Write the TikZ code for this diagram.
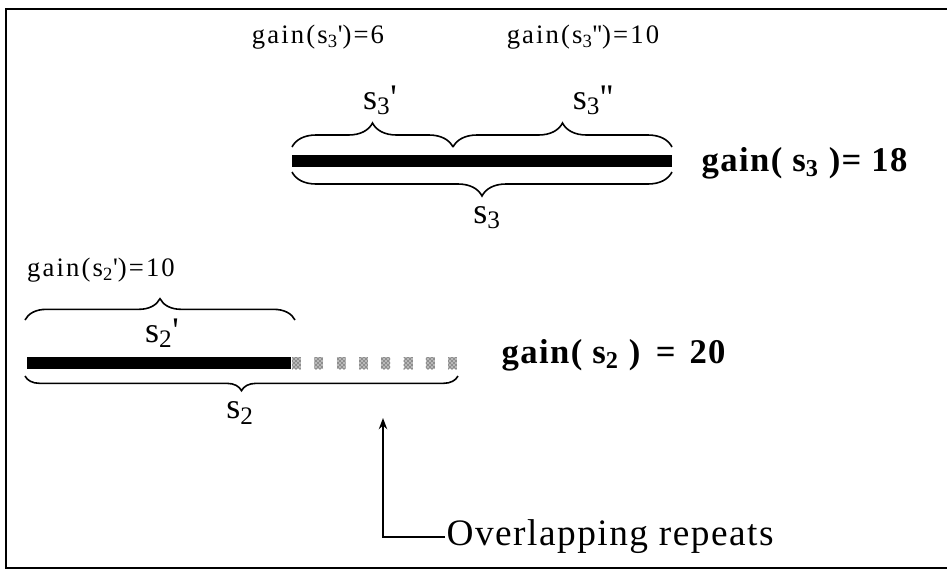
\documentclass[tikz,border=0pt]{standalone}
\usepackage{fontspec}
\setmainfont{Liberation Serif}
\usetikzlibrary{arrows.meta,decorations.pathreplacing,patterns}

\newcommand{\pr}{\textquotesingle}

\begin{document}
\begin{tikzpicture}[=>stealth,x=0.75pt,y=-0.75pt,
  bar/.style={line width=8.5pt},
  brc/.style={decorate,decoration={brace,amplitude=#1},line width=1.2pt},
  brcm/.style={decorate,decoration={brace,mirror,amplitude=#1},line width=1.2pt},
  gainsmall/.style={font=\fontsize{20}{22}\selectfont\addfontfeatures{LetterSpace=8}},
  seglbl/.style={font=\fontsize{27}{30}\selectfont},
  gainbig/.style={font=\fontsize{26}{30}\selectfont\bfseries\addfontfeatures{LetterSpace=4}},
  replbl/.style={font=\fontsize{28}{30}\selectfont\addfontfeatures{LetterSpace=4}}]
\useasboundingbox (0,0) rectangle (947,569);
\draw[line width=1.5pt](947,9)--(6,9)--(6,568)--(947,568);
\coordinate (a3) at (292,161);
\coordinate (b3) at (672,161);
\draw[bar](a3)--(b3);
\coordinate (a3u) at (292,147);
\coordinate (m3u) at (453,147);
\coordinate (b3u) at (672,147);
\coordinate (a3d) at (292,172);
\coordinate (b3d) at (672,172);
\draw[brc=18pt](a3u)--(m3u);
\draw[brc=18pt](m3u)--(b3u);
\draw[brcm=18pt](a3d)--(b3d);
\node[seglbl] (s3a) at (380,100) {s\textsubscript{3}\pr};
\node[seglbl] (s3b) at (593,100) {s\textsubscript{3}\pr\pr};
\node[seglbl] (s3) at (487,218) {s\textsubscript{3}};
\node[gainsmall] (g3a) at (318,37) {gain(s\textsubscript{3}\pr)=6};
\node[gainsmall] (g3b) at (583,37) {gain(s\textsubscript{3}\pr\pr)=10};
\node[gainbig,anchor=west] (g3) at (697,163) {gain( s\textsubscript{3} )= 18};
\coordinate (a2) at (27,363);
\coordinate (b2) at (291,363);
\draw[line width=9pt](a2)--(b2);
\foreach \i in {0,...,7}
  \fill[gray!55]({292+22.3*\i},357) rectangle ++(9,12);
\foreach \i in {0,...,7}
  \path[pattern=crosshatch dots,pattern color=black]({292+22.3*\i},357) rectangle ++(9,12);
\coordinate (a2u) at (25,320);
\coordinate (b2u) at (295,320);
\coordinate (a2d) at (25,376);
\coordinate (b2d) at (458,376);
\draw[brc=16pt](a2u)--(b2u);
\draw[brcm=11pt](a2d)--(b2d);
\node[gainsmall] (g2a) at (101,270) {gain(s\textsubscript{2}\pr)=10};
\node[seglbl] (s2a) at (162,333) {s\textsubscript{2}\pr};
\node[seglbl] (s2) at (240,413) {s\textsubscript{2}};
\node[gainbig,anchor=west] (g2) at (497,355) {gain( s\textsubscript{2} )\hspace{0.45em}=\hspace{0.4em}20};
\node[replbl,anchor=west,inner sep=1pt] (rep) at (445,537) {Overlapping repeats};
\coordinate (tip) at (383,418);
\draw[-Stealth,line width=1.2pt](rep.west)-|(tip);
\end{tikzpicture}
\end{document}
